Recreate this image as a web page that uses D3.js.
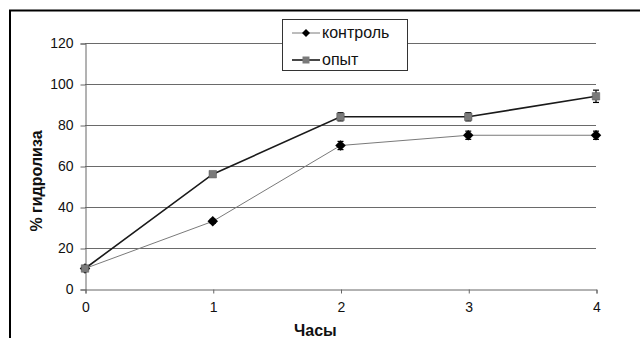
<!DOCTYPE html>
<html>
<head>
<meta charset="utf-8">
<script src="https://cdn.jsdelivr.net/npm/d3@7"></script>
<style>
  body { margin: 0; background: #fff; }
  svg { font-family: "Liberation Sans", Arial, sans-serif; }
</style>
</head>
<body>
<svg id="chart" width="640" height="338"></svg>
<script>
// data
const hours = [0, 1, 2, 3, 4];
const control = [10, 33, 70, 75, 75];
const controlErr = [0, 1, 2, 2, 2];
const experiment = [10, 56, 84, 84, 94];
const experimentErr = [0, 1, 2, 2, 3];
const yTicks = [0, 20, 40, 60, 80, 100, 120];
const seriesNames = ["контроль", "опыт"];

const svg = d3.select("#chart");

// outer frame (only left and top edges visible)
svg.append("path")
  .attr("d", "M10,338 V10.5 H640")
  .attr("fill", "none")
  .attr("stroke", "#000")
  .attr("stroke-width", 2);

const x = d3.scaleLinear().domain([0, 4]).range([85, 596]);
const y = d3.scaleLinear().domain([0, 120]).range([289, 43]);

// gridlines
svg.append("g")
  .selectAll("line")
  .data(yTicks.filter(d => d > 0))
  .enter()
  .append("line")
  .attr("x1", x(0))
  .attr("x2", x(4))
  .attr("y1", d => y(d) + 0.5)
  .attr("y2", d => y(d) + 0.5)
  .attr("stroke", "#6a6a6a")
  .attr("stroke-width", 1.2);

// y axis
const yAxis = svg.append("g")
  .attr("transform", "translate(" + (x(0) + 0.5) + ",0.5)")
  .call(d3.axisLeft(y).tickValues(yTicks).tickSize(5).tickPadding(7));
yAxis.select(".domain").attr("stroke", "#666");
yAxis.selectAll(".tick line").attr("stroke", "#666");
yAxis.selectAll("text").attr("font-size", 14).attr("fill", "#111")
  .attr("font-family", "Liberation Sans, Arial, sans-serif");

// x axis
const xAxis = svg.append("g")
  .attr("transform", "translate(0.5," + (y(0) + 0.5) + ")")
  .call(d3.axisBottom(x).tickValues(hours).tickFormat(d3.format("d")).tickSize(4).tickPadding(9));
xAxis.select(".domain").attr("stroke", "#666");
xAxis.selectAll(".tick line").attr("stroke", "#666");
xAxis.selectAll("text").attr("font-size", 14).attr("fill", "#111")
  .attr("font-family", "Liberation Sans, Arial, sans-serif");

// axis titles
svg.append("text")
  .attr("x", 294)
  .attr("y", 336)
  .attr("font-size", 16)
  .attr("font-weight", "bold")
  .attr("fill", "#111")
  .text("Часы");

svg.append("text")
  .attr("transform", "translate(42,181) rotate(-90)")
  .attr("text-anchor", "middle")
  .attr("font-size", 16)
  .attr("font-weight", "bold")
  .attr("fill", "#111")
  .text("% гидролиза");

// square-shaped diamond (rotated square)
const diamond = {
  draw(ctx, size) {
    const r = Math.sqrt(size) / 2;
    ctx.moveTo(0, -r); ctx.lineTo(r, 0); ctx.lineTo(0, r); ctx.lineTo(-r, 0); ctx.closePath();
  }
};

const series = [
  { name: seriesNames[0], values: control, err: controlErr, line: "#7a7a7a", width: 1, fill: "#000", shape: diamond, size: 110, lsize: 64 },
  { name: seriesNames[1], values: experiment, err: experimentErr, line: "#1a1a1a", width: 1.6, fill: "#7a7a7a", shape: d3.symbolSquare, size: 56, lsize: 49 }
];

const line = d3.line()
  .x((d, i) => x(hours[i]))
  .y(d => y(d));

series.forEach(s => {
  svg.append("path")
    .datum(s.values)
    .attr("d", line)
    .attr("fill", "none")
    .attr("stroke", s.line)
    .attr("stroke-width", s.width);

  const eb = svg.append("g");
  s.values.forEach((v, i) => {
    if (!s.err[i]) return;
    const cx = x(hours[i]);
    eb.append("line").attr("x1", cx).attr("x2", cx)
      .attr("y1", y(v - s.err[i])).attr("y2", y(v + s.err[i]))
      .attr("stroke", "#000").attr("stroke-width", 1.2);
    [v - s.err[i], v + s.err[i]].forEach(e => {
      eb.append("line").attr("x1", cx - 3).attr("x2", cx + 3)
        .attr("y1", y(e)).attr("y2", y(e))
        .attr("stroke", "#000").attr("stroke-width", 1.2);
    });
  });

  svg.append("g")
    .selectAll("path")
    .data(s.values)
    .enter()
    .append("path")
    .attr("transform", (d, i) => "translate(" + x(hours[i]) + "," + y(d) + ")")
    .attr("d", d3.symbol().type(s.shape).size(s.size))
    .attr("fill", s.fill)
    .attr("stroke", s.shape === diamond ? "none" : "#555")
    .attr("stroke-width", 0.5);
});

// legend
const legend = svg.append("g");
legend.append("rect")
  .attr("x", 282.5).attr("y", 19.5)
  .attr("width", 125).attr("height", 51)
  .attr("fill", "#fff")
  .attr("stroke", "#333")
  .attr("stroke-width", 1);

series.forEach((s, i) => {
  const ly = 33 + i * 27;
  legend.append("line")
    .attr("x1", 292).attr("x2", 320)
    .attr("y1", ly).attr("y2", ly)
    .attr("stroke", s.line)
    .attr("stroke-width", s.width);
  legend.append("path")
    .attr("transform", "translate(306," + ly + ")")
    .attr("d", d3.symbol().type(s.shape).size(s.lsize))
    .attr("fill", s.fill);
  legend.append("text")
    .attr("x", 322)
    .attr("y", ly + 5)
    .attr("font-size", 16)
    .attr("fill", "#111")
    .text(s.name);
});
</script>
</body>
</html>
